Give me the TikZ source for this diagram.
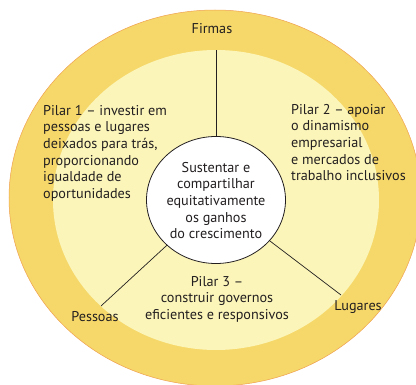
\documentclass[tikz,border=0pt]{standalone}
\usepackage{fontspec}
\setmainfont{PT Sans}
\usetikzlibrary{shapes.geometric}
\definecolor{outerY}{HTML}{F6D86A}
\definecolor{innerY}{HTML}{FBF5B9}
\definecolor{edgeO}{HTML}{EFA050}
\definecolor{txt}{HTML}{231F20}
\tikzset{
  lbl/.style={font=\fontsize{14.2}{16.6}\selectfont, text=txt, inner sep=0pt},
  spoke/.style={draw=txt, line width=0.7pt},
}
\begin{document}
\begin{tikzpicture}[x=1pt,y=-1pt]
\useasboundingbox (0,0) rectangle (416,385);
\fill[outerY, draw=edgeO, line width=0.5pt] (215,198) ellipse [x radius=206, y radius=188];
\fill[innerY] (216,200) ellipse [x radius=163, y radius=150];
\node[ellipse, draw=txt, fill=white, line width=0.8pt, minimum width=139pt, minimum height=127pt, inner sep=0pt] (c) at (216,200) {};
\coordinate (top) at (216,50);
\coordinate (pl) at (101,306);
\coordinate (pr) at (341,295);
\draw[spoke] (c) -- (top);
\draw[spoke] (c) -- (pl);
\draw[spoke] (c) -- (pr);
\node[lbl, align=center] (ct) at (216,200.5) {Sustentar e\\compartilhar\\equitativamente\\os ganhos\\do crescimento};
\node[lbl] (firmas) at (212,29) {Firmas};
\node[lbl, align=left, anchor=north west] (p1) at (43,105) {Pilar 1 – investir em\\pessoas e lugares\\deixados para trás,\\proporcionando\\igualdade de\\oportunidades};
\node[lbl, align=left, anchor=north west] (p2) at (291,104) {Pilar 2 – apoiar\\o dinamismo\\empresarial\\e mercados de\\trabalho inclusivos};
\node[lbl, align=center] (p3) at (217,299) {Pilar 3 –\\construir governos\\eficientes e responsivos};
\node[lbl] (pessoas) at (95,317) {Pessoas};
\node[lbl] (lugares) at (358,307) {Lugares};
\end{tikzpicture}
\end{document}
